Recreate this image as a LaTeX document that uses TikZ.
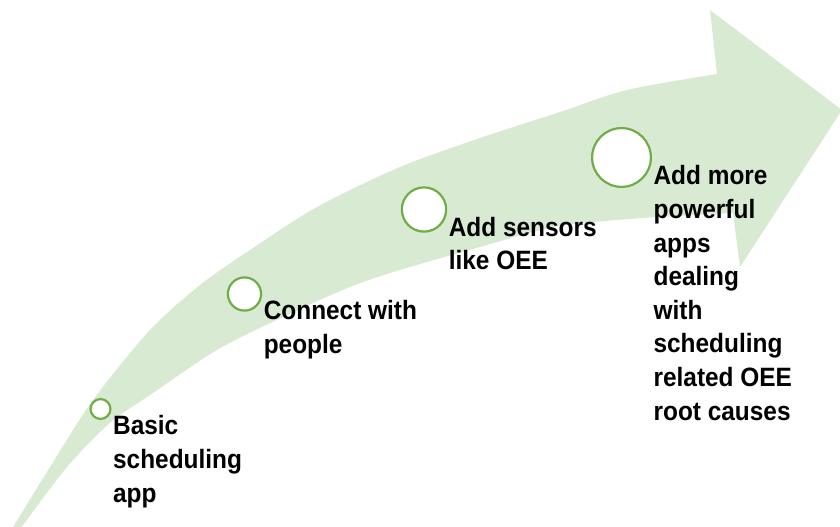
\documentclass[tikz,border=0pt]{standalone}
\usepackage{fontspec}
\setmainfont{Liberation Sans}[FakeStretch=0.92]
\usetikzlibrary{positioning}
\definecolor{bandgreen}{RGB}{216,234,210}
\definecolor{ringgreen}{RGB}{112,173,71}
\tikzset{
	milestone/.style = {
		circle,
		draw=ringgreen,
		fill=white,
		line width=1.65pt,
		inner sep=0pt
	},
	steplabel/.style = {
		align=left,
		inner sep=0pt,
		anchor=base west,
		font=\bfseries\fontsize{19.9pt}{25.2pt}\selectfont
	},
}

\begin{document}
\begin{tikzpicture}[x=0.75pt,y=-0.75pt]
\useasboundingbox (0,0) rectangle (840,527);
% curved band with its head
\fill[bandgreen] plot[smooth] coordinates {(10,532) (50,467) (93,400) (150,330) (200,285) (250,250) (317,207) (400,167) (480,138) (560,112) (627,90) (717,74)}
	-- (710,10) -- (842,110) -- (740,267) -- (733,213)
	-- plot[smooth] coordinates {(657,217) (560,226) (480,247) (400,270) (350,287) (283,317) (217,350) (150,395) (110,423) (67,467) (18,532)}
	-- cycle;
% milestones
\node[milestone, minimum size=14.9pt] (ms1) at (100.5,409) {};
\node[milestone, minimum size=24.9pt] (ms2) at (244.5,294) {};
\node[milestone, minimum size=33.2pt] (ms3) at (424,209.5) {};
\node[milestone, minimum size=44.1pt] (ms4) at (621.5,157.5) {};
% base anchor sits on the last line
\node[steplabel] (basic) at ([xshift=1pt,yshift=-69.9pt]ms1.east) {Basic\\scheduling\\app};
\node[steplabel] (connect) at ([xshift=1pt,yshift=-44.7pt]ms2.east) {Connect with\\people};
\node[steplabel] (sensors) at ([xshift=1pt,yshift=-45.1pt]ms3.east) {Add sensors\\like OEE};
\node[steplabel] (powerful) at ([xshift=1pt,yshift=-197pt]ms4.east) {Add more\\powerful\\apps\\dealing\\with\\scheduling\\related OEE\\root causes};
\end{tikzpicture}
\end{document}
